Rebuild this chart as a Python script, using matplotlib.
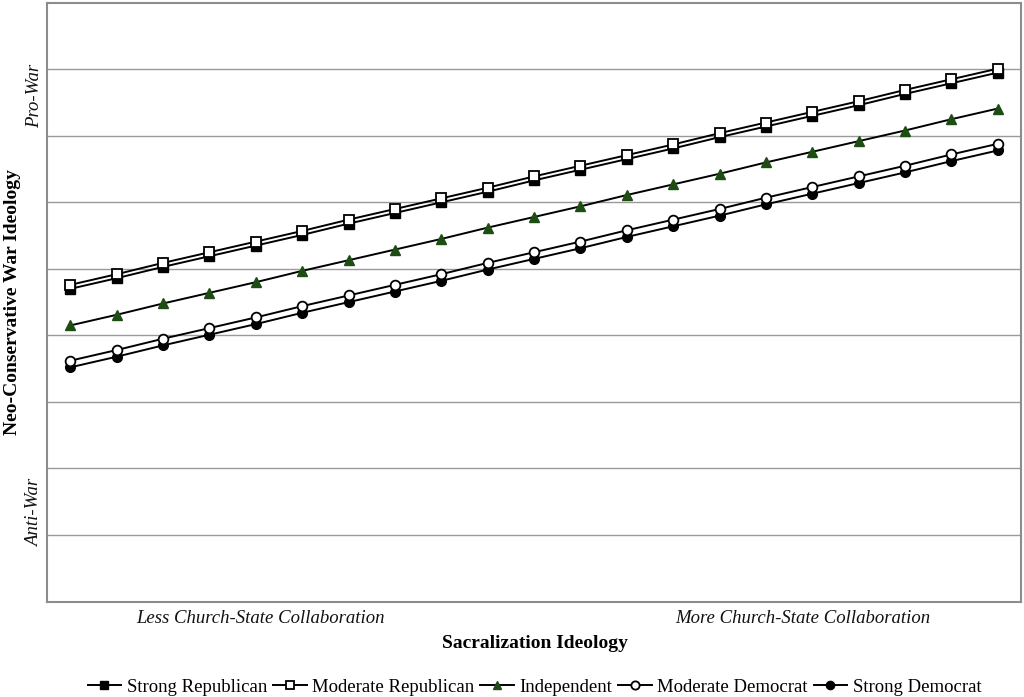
import matplotlib.pyplot as plt

plt.rcParams['font.family'] = ['Liberation Serif', 'DejaVu Serif']

# Data (21 points along sacralization ideology)
x_pos = list(range(21))
strong_rep = [4.70, 4.86, 5.03, 5.19, 5.35, 5.51, 5.68, 5.84, 6.00, 6.16, 6.33,
              6.49, 6.65, 6.81, 6.98, 7.14, 7.30, 7.46, 7.63, 7.79, 7.95]
moderate_rep = [4.76, 4.92, 5.09, 5.25, 5.41, 5.57, 5.74, 5.90, 6.06, 6.22, 6.39,
                6.55, 6.71, 6.87, 7.04, 7.20, 7.36, 7.52, 7.69, 7.85, 8.01]
independent = [4.15, 4.31, 4.48, 4.64, 4.80, 4.97, 5.13, 5.29, 5.45, 5.62, 5.78,
               5.94, 6.11, 6.27, 6.43, 6.60, 6.76, 6.92, 7.08, 7.25, 7.41]
moderate_dem = [3.62, 3.78, 3.95, 4.11, 4.27, 4.44, 4.60, 4.76, 4.92, 5.09, 5.25,
                5.41, 5.58, 5.74, 5.90, 6.07, 6.23, 6.39, 6.55, 6.72, 6.88]
strong_dem = [3.52, 3.68, 3.85, 4.01, 4.17, 4.34, 4.50, 4.66, 4.82, 4.99, 5.15,
              5.31, 5.48, 5.64, 5.80, 5.97, 6.13, 6.29, 6.45, 6.62, 6.78]

GRID = '#9a9a9a'
SPINE = '#8c8c8c'
GREEN = '#1e4d14'

fig = plt.figure(figsize=(10.24, 6.97), dpi=100, facecolor='white')
ax = fig.add_axes([0.046, 0.137, 0.951, 0.859])

lw = 1.4
ax.plot(x_pos, strong_rep, color='black', lw=lw, marker='s', ms=7.5,
        mfc='black', mec='black', label='Strong Republican', zorder=3)
ax.plot(x_pos, moderate_rep, color='black', lw=lw, marker='s', ms=7.5,
        mfc='white', mec='black', mew=1.3, label='Moderate Republican', zorder=4)
ax.plot(x_pos, independent, color='black', lw=lw, marker='^', ms=7,
        mfc=GREEN, mec=GREEN, label='Independent', zorder=3)
ax.plot(x_pos, moderate_dem, color='black', lw=lw, marker='o', ms=7,
        mfc='white', mec='black', mew=1.3, label='Moderate Democrat', zorder=4)
ax.plot(x_pos, strong_dem, color='black', lw=lw, marker='o', ms=7,
        mfc='black', mec='black', label='Strong Democrat', zorder=3)

ax.set_xlim(-0.5, 20.5)
ax.set_ylim(0, 9)
ax.set_yticks(range(1, 9))
ax.set_xticks([])
ax.tick_params(left=False, labelleft=False)
ax.grid(axis='y', color=GRID, lw=1.0)
ax.set_axisbelow(True)
for spine in ax.spines.values():
    spine.set_color(SPINE)
    spine.set_linewidth(1.5)

# Category labels
ax.text(4.1, -0.25, 'Less Church-State Collaboration', ha='center', va='center',
        fontsize=13.5, style='italic', color='#111111')
ax.text(15.8, -0.25, 'More Church-State Collaboration', ha='center', va='center',
        fontsize=13.5, style='italic', color='#111111')
ax.text(-0.78, 7.6, 'Pro-War', rotation=90, ha='center', va='center',
        fontsize=13.5, style='italic', color='#111111')
ax.text(-0.78, 1.33, 'Anti-War', rotation=90, ha='center', va='center',
        fontsize=13.5, style='italic', color='#111111')

fig.text(0.522, 0.077, 'Sacralization Ideology', ha='center', va='center',
         fontsize=14, fontweight='bold')
fig.text(0.012, 0.567, 'Neo-Conservative War Ideology', ha='center', va='center',
         rotation=90, fontsize=14, fontweight='bold')

fig.legend(loc='center', bbox_to_anchor=(0.522, 0.014), ncol=5, frameon=False,
           fontsize=13.5, handlelength=1.8, handletextpad=0.3, columnspacing=0.3,
           markerscale=0.85)

fig.savefig('out.png', dpi=100, facecolor='white')
